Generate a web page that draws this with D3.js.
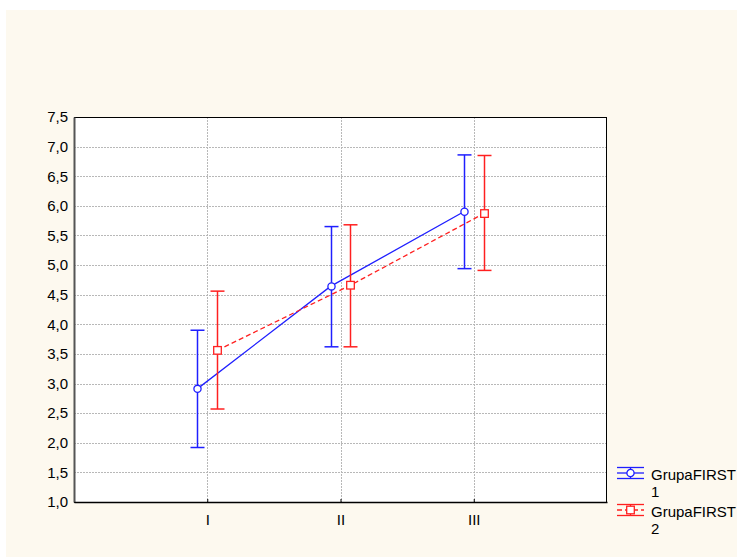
<!DOCTYPE html>
<html>
<head>
<meta charset="utf-8">
<script src="https://cdn.jsdelivr.net/npm/d3@7"></script>
<style>
  html, body { margin: 0; padding: 0; background: #ffffff; }
  svg { display: block; }
</style>
</head>
<body>
<svg id="chart" width="737" height="557"></svg>
<script>
// Category labels on the x axis
const categories = ["I", "II", "III"];
// Y-axis tick values and their labels (decimal comma)
const yTicks = [1.0, 1.5, 2.0, 2.5, 3.0, 3.5, 4.0, 4.5, 5.0, 5.5, 6.0, 6.5, 7.0, 7.5];
const yTickLabels = ["1,0", "1,5", "2,0", "2,5", "3,0", "3,5", "4,0", "4,5", "5,0", "5,5", "6,0", "6,5", "7,0", "7,5"];
// Group names
const seriesNames = ["GrupaFIRST\n1", "GrupaFIRST\n2"];
// Means and confidence limits for group 1
const g1Mean  = [2.91, 4.64, 5.90];
const g1Upper = [3.90, 5.65, 6.86];
const g1Lower = [1.92, 3.62, 4.94];
// Means and confidence limits for group 2
const g2Mean  = [3.56, 4.66, 5.87];
const g2Upper = [4.56, 5.68, 6.85];
const g2Lower = [2.57, 3.62, 4.91];

const svg = d3.select("#chart");
const font = "'Liberation Sans', Arial, sans-serif";

// cream page background
svg.append("rect").attr("x", 6).attr("y", 10).attr("width", 731).attr("height", 547).attr("fill", "#fdf9ef");

const plot = { left: 74, right: 607, top: 117, bottom: 502 };

const x = d3.scaleLinear().domain([0, 4]).range([plot.left, plot.right]);
const y = d3.scaleLinear().domain([1, 7.5]).range([plot.bottom, plot.top]);

// plot area
svg.append("rect")
  .attr("x", plot.left).attr("y", plot.top)
  .attr("width", plot.right - plot.left).attr("height", plot.bottom - plot.top)
  .attr("fill", "#ffffff");

// horizontal grid
svg.append("g").selectAll("line")
  .data(yTicks.slice(1, -1))
  .join("line")
  .attr("x1", plot.left).attr("x2", plot.right)
  .attr("y1", d => Math.round(y(d)) + 0.5).attr("y2", d => Math.round(y(d)) + 0.5)
  .attr("stroke", "#b8b8b8").attr("stroke-width", 1).attr("stroke-dasharray", "2,1");

// vertical grid at categories
svg.append("g").selectAll("line")
  .data(categories)
  .join("line")
  .attr("x1", (d, i) => Math.round(x(i + 1)) + 0.5).attr("x2", (d, i) => Math.round(x(i + 1)) + 0.5)
  .attr("y1", plot.top).attr("y2", plot.bottom)
  .attr("stroke", "#b8b8b8").attr("stroke-width", 1).attr("stroke-dasharray", "2,1");

// frame
svg.append("rect")
  .attr("x", plot.left + 0.5).attr("y", plot.top + 0.5)
  .attr("width", plot.right - plot.left - 1).attr("height", plot.bottom - plot.top)
  .attr("fill", "none").attr("stroke", "#000000").attr("stroke-width", 1);

// Y axis
const yAxis = d3.axisLeft(y)
  .tickValues(yTicks)
  .tickFormat((d, i) => yTickLabels[i])
  .tickSize(0).tickPadding(6);
const gy = svg.append("g").attr("transform", `translate(${plot.left},0)`).call(yAxis);
gy.select(".domain").attr("stroke", "#555555").attr("stroke-width", 2);
gy.selectAll("text").attr("font-family", font).attr("font-size", 15).attr("fill", "#000");

// X axis
const xAxis = d3.axisBottom(x)
  .tickValues([1, 2, 3])
  .tickFormat((d) => categories[d - 1])
  .tickSizeInner(-3).tickSizeOuter(0).tickPadding(12);
const gx = svg.append("g").attr("transform", `translate(0,${plot.bottom})`).call(xAxis);
gx.select(".domain").attr("stroke", "#000").attr("stroke-width", 1.5);
gx.selectAll(".tick line").attr("stroke", "#000");
gx.selectAll("text").attr("font-family", font).attr("font-size", 15).attr("fill", "#000");

const series = [
  { mean: g1Mean, upper: g1Upper, lower: g1Lower, offset: -0.075, color: "#1f1fff", dash: null, marker: "circle" },
  { mean: g2Mean, upper: g2Upper, lower: g2Lower, offset: 0.075, color: "#ff2020", dash: "5,3", marker: "square" }
];

series.forEach(s => {
  const g = svg.append("g");
  const pts = s.mean.map((m, i) => ({ xv: i + 1 + s.offset, m, u: s.upper[i], l: s.lower[i] }));
  // connecting line
  g.append("path")
    .datum(pts)
    .attr("d", d3.line().x(d => x(d.xv)).y(d => y(d.m)))
    .attr("fill", "none").attr("stroke", s.color).attr("stroke-width", 1.3)
    .attr("stroke-dasharray", s.dash);
  // error bars
  pts.forEach(p => {
    const cx = Math.round(x(p.xv)) + 0.5;
    g.append("line").attr("x1", cx).attr("x2", cx).attr("y1", y(p.u)).attr("y2", y(p.l))
      .attr("stroke", s.color).attr("stroke-width", 1.5);
    [p.u, p.l].forEach(v => {
      g.append("line").attr("x1", cx - 7).attr("x2", cx + 7).attr("y1", y(v)).attr("y2", y(v))
        .attr("stroke", s.color).attr("stroke-width", 1.5);
    });
    if (s.marker === "circle") {
      g.append("circle").attr("cx", cx).attr("cy", y(p.m)).attr("r", 3.6)
        .attr("fill", "#ffffff").attr("stroke", s.color).attr("stroke-width", 1.3);
    } else {
      g.append("rect").attr("x", cx - 3.8).attr("y", y(p.m) - 3.8).attr("width", 7.6).attr("height", 7.6)
        .attr("fill", "#ffffff").attr("stroke", s.color).attr("stroke-width", 1.3);
    }
  });
});

// legend
const legendY = [473, 510];
series.forEach((s, i) => {
  const g = svg.append("g").attr("transform", `translate(617,${legendY[i]})`);
  g.append("line").attr("x1", 0).attr("x2", 27).attr("y1", -5.5).attr("y2", -5.5).attr("stroke", s.color).attr("stroke-width", 1.3);
  g.append("line").attr("x1", 0).attr("x2", 27).attr("y1", 5.5).attr("y2", 5.5).attr("stroke", s.color).attr("stroke-width", 1.3);
  g.append("line").attr("x1", 13.5).attr("x2", 13.5).attr("y1", -5.5).attr("y2", 5.5).attr("stroke", s.color).attr("stroke-width", 1.3);
  g.append("line").attr("x1", 0).attr("x2", 27).attr("y1", 0).attr("y2", 0).attr("stroke", s.color).attr("stroke-width", 1.3)
    .attr("stroke-dasharray", s.dash);
  if (s.marker === "circle") {
    g.append("circle").attr("cx", 13.5).attr("cy", 0).attr("r", 3.6).attr("fill", "#fff").attr("stroke", s.color).attr("stroke-width", 1.3);
  } else {
    g.append("rect").attr("x", 9.7).attr("y", -3.8).attr("width", 7.6).attr("height", 7.6).attr("fill", "#fff").attr("stroke", s.color).attr("stroke-width", 1.3);
  }
  const lines = seriesNames[i].split("\n");
  const t = g.append("text").attr("x", 34).attr("y", 7)
    .attr("font-family", font).attr("font-size", 15).attr("fill", "#000");
  lines.forEach((ln, k) => {
    t.append("tspan").attr("x", 34).attr("dy", k === 0 ? 0 : 17).text(ln);
  });
});
</script>
</body>
</html>
